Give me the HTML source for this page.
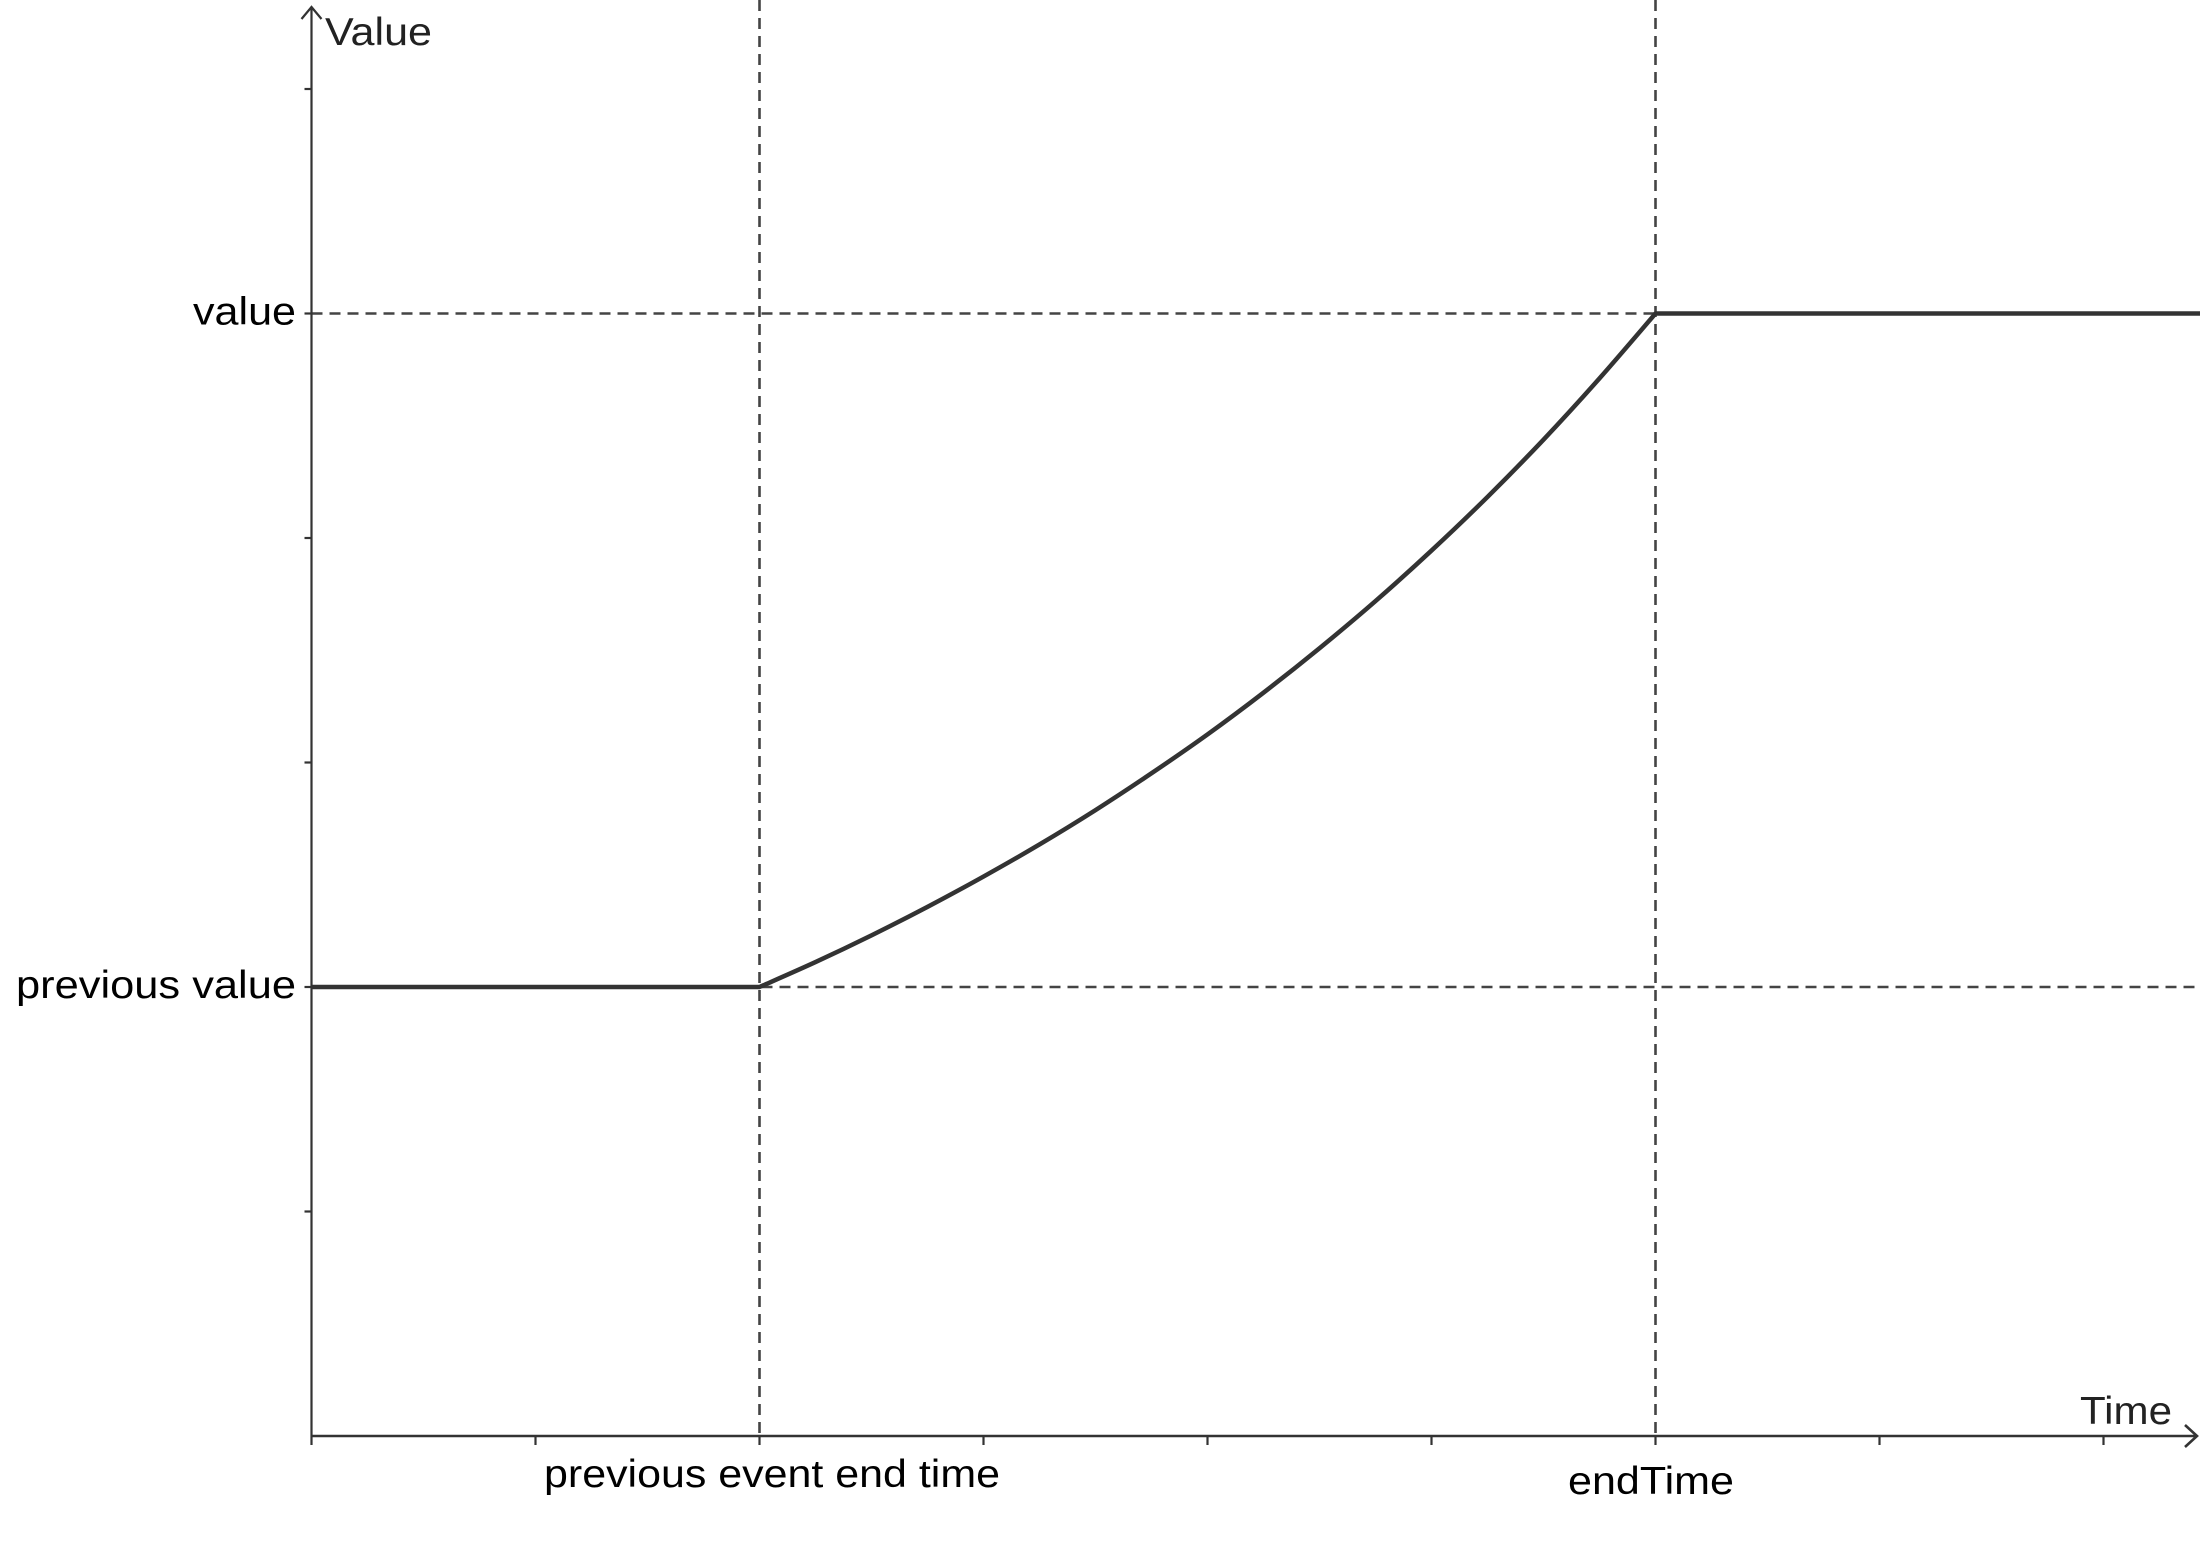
<!DOCTYPE html>
<html><head><meta charset="utf-8"><style>
html,body{margin:0;padding:0;background:#fff;}
svg{display:block;font-family:"Liberation Sans",Arial,sans-serif;}
</style></head><body>
<svg id="chart" width="2200" height="1550" viewBox="0 0 2200 1550" xmlns="http://www.w3.org/2000/svg"></svg>
<script>
const curveTimes = [2, 2.25, 2.5, 2.75, 3, 3.25, 3.5, 3.75, 4, 4.25, 4.5, 4.75, 5, 5.25, 5.5, 5.75, 6];
const curveValues = [2, 2.111, 2.230, 2.357, 2.492, 2.635, 2.788, 2.952, 3.125, 3.311, 3.509, 3.719, 3.944, 4.183, 4.438, 4.711, 5];
const prevEndTime = 2;
const endTime = 6;
const prevValue = 2;
const targetValue = 5;
const xTicks = [0,1,2,3,4,5,6,7,8];
const yTicks = [1,2,3,4,5,6];

const X0 = 311.5, Y0 = 1436, XS = 224, YS = 224.5;
const sx = t => X0 + t * XS;
const sy = v => Y0 - v * YS;
const NS = 'http://www.w3.org/2000/svg';
const svg = document.getElementById('chart');
function mk(tag, attrs, text) {
  const e = document.createElementNS(NS, tag);
  for (const k in attrs) e.setAttribute(k, attrs[k]);
  if (text !== undefined) e.textContent = text;
  svg.appendChild(e);
  return e;
}
const dash = {stroke:'#444','stroke-width':2.6,'stroke-dasharray':'11 7',fill:'none'};
let e;
e = mk('line', Object.assign({x1:X0,y1:sy(targetValue),x2:2200,y2:sy(targetValue)}, dash));


e = mk('line', Object.assign({x1:X0,y1:sy(prevValue),x2:2200,y2:sy(prevValue)}, dash));


e = mk('line', Object.assign({x1:sx(prevEndTime),y1:0,x2:sx(prevEndTime),y2:Y0}, dash));


e = mk('line', Object.assign({x1:sx(endTime),y1:0,x2:sx(endTime),y2:Y0}, dash));



e = mk('path', {d:`M${X0} ${Y0} V7 M${X0-10} 19 L${X0} 7 L${X0+10} 19`, stroke:'#333','stroke-width':2.2, fill:'none'});


e = mk('path', {d:`M${X0} ${Y0} H2197 M2185 ${Y0-11} L2197 ${Y0} L2185 ${Y0+11}`, stroke:'#333','stroke-width':2.6, fill:'none'});


xTicks.forEach(t => {
  const l = mk('line', {x1:sx(t),y1:Y0,x2:sx(t),y2:Y0+9,stroke:'#333','stroke-width':2.2});
  
  
});
yTicks.forEach(v => {
  const l = mk('line', {x1:X0-7,y1:sy(v),x2:X0,y2:sy(v),stroke:'#333','stroke-width':2.2});
  
  
});

const pts = curveTimes.map((t,i)=>[sx(t), sy(curveValues[i])]);
let d = `M${sx(0)} ${sy(prevValue)} L${pts[0][0]} ${pts[0][1]}`;
for (let i=0;i<pts.length-1;i++){
  const p0 = pts[Math.max(0,i-1)], p1 = pts[i], p2 = pts[i+1], p3 = pts[Math.min(pts.length-1,i+2)];
  const c1 = [p1[0]+(p2[0]-p0[0])/6, p1[1]+(p2[1]-p0[1])/6];
  const c2 = [p2[0]-(p3[0]-p1[0])/6, p2[1]-(p3[1]-p1[1])/6];
  d += ` C${c1[0]} ${c1[1]} ${c2[0]} ${c2[1]} ${p2[0]} ${p2[1]}`;
}
d += ` L2200 ${sy(targetValue)}`;
e = mk('path', {d:d, stroke:'#333','stroke-width':4.5, fill:'none','stroke-linejoin':'round'});



const lab = (x,y,txt,anchor,name,len,col) => {
  const t = mk('text', {x:x,y:y,'font-size':39,'text-anchor':anchor,fill:col||'#000',textLength:len,lengthAdjust:'spacingAndGlyphs'}, txt);
  
  
};
lab(296, sy(targetValue)+11, 'value', 'end', 'value-label', 103);
lab(296, sy(prevValue)+11, 'previous value', 'end', 'previous-value-label', 280);
lab(325, 45, 'Value', 'start', 'y-axis-title', 107, '#222');
lab(2172, 1424, 'Time', 'end', 'x-axis-title', 92, '#222');
lab(544, 1487, 'previous event end time', 'start', 'previous-event-end-time-label', 456);
lab(1568, 1494, 'endTime', 'start', 'end-time-label', 166);
</script>
</body></html>
